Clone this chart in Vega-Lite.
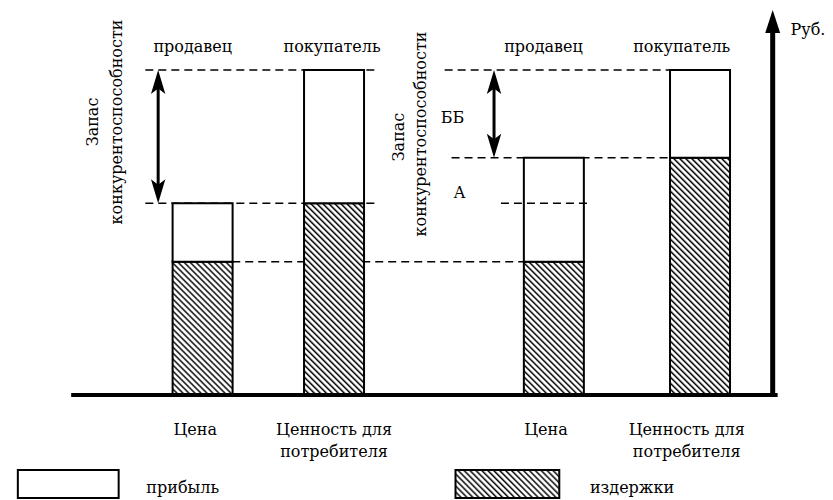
{
"$schema":"https://vega.github.io/schema/vega-lite/v6.json",
"width":833,"height":500,
"autosize":{"type":"fit","contains":"padding"},
"padding":0,
"background":"white",
"config":{"view":{"stroke":null},"axis":{"disable":true}},
"datasets":{
"bars":[
{"col":"A1","part":"издержки","x":24.01,"y":0,"y2":41},
{"col":"A1","part":"прибыль","x":24.01,"y":41,"y2":59},
{"col":"A2","part":"издержки","x":39.98,"y":0,"y2":59},
{"col":"A2","part":"прибыль","x":39.98,"y":59,"y2":100},
{"col":"B1","part":"издержки","x":66.69,"y":0,"y2":41},
{"col":"B1","part":"прибыль","x":66.69,"y":41,"y2":73},
{"col":"B2","part":"издержки","x":84.45,"y":0,"y2":73},
{"col":"B2","part":"прибыль","x":84.45,"y":73,"y2":100}],
"legend":[
{"part":"прибыль","x":1.56,"x2":13.81,"y":-23.08,"y2":-31.69},
{"part":"издержки","x":54.74,"x2":67.35,"y":-23.08,"y2":-31.69}],
"guides":[
{"x":17.05,"x2":45.26,"y":100},
{"x":17.05,"x2":45.26,"y":59},
{"x":27.61,"x2":63.15,"y":41},
{"x":53.42,"x2":80.91,"y":100},
{"x":54.26,"x2":80.91,"y":73}],
"guideA":[{"x":60.26,"x2":70.83,"y":59}],
"arrows":[{"x":18.61,"y":100,"y2":59},{"x":59.42,"y":100,"y2":73}],
"base":[{"x":8.04,"x2":93.88,"y":0}],
"vaxis":[{"x":93.28,"y":-0.6,"y2":118.46}],
"textC":[
{"t":"продавец","x":22.81,"y":105.54},
{"t":"покупатель","x":39.74,"y":105.54},
{"t":"продавец","x":65.43,"y":105.54},
{"t":"покупатель","x":82.23,"y":105.54},
{"t":"ББ","x":54.38,"y":83.69},
{"t":"А","x":55.22,"y":60.62},
{"t":"Цена","x":23.11,"y":-12.31},
{"t":"Ценность для","x":39.98,"y":-12.31},
{"t":"потребителя","x":39.98,"y":-19.08},
{"t":"Цена","x":65.73,"y":-12.31},
{"t":"Ценность для","x":82.83,"y":-12.31},
{"t":"потребителя","x":82.83,"y":-19.08}],
"textL":[
{"t":"Руб.","x":95.44,"y":110.77},
{"t":"прибыль","x":17.17,"y":-30.15},
{"t":"издержки","x":71.07,"y":-30.15}],
"textR":[
{"t":"Запас","x":11.3,"y":84.0},
{"t":"конкурентоспособности","x":14.25,"y":84.0},
{"t":"Запас","x":48.5,"y":79.38},
{"t":"конкурентоспособности","x":51.14,"y":80.31}]
},
"encoding":{
"x":{"field":"x","type":"quantitative","scale":{"domain":[0,100],"nice":false,"zero":false},"axis":null},
"y":{"field":"y","type":"quantitative","scale":{"domain":[-32.31,121.54],"nice":false,"zero":false},"axis":null}
},
"layer":[
{"data":{"name":"guides"},"mark":{"type":"rule","color":"#000","strokeWidth":1.5,"strokeDash":[8,5]},"encoding":{"x2":{"field":"x2"}}},
{"data":{"name":"bars"},"mark":{"type":"bar","orient":"vertical","width":60,"stroke":"#000","strokeWidth":2},
"encoding":{"y2":{"field":"y2"},
"fill":{"condition":[
{"test":"datum.part==='прибыль'","value":"#fff"},
{"test":"datum.col==='A2'","value":{"gradient":"linear","x1":0,"y1":1,"x2":0.4459,"y2":-0.425,"stops":[
{"offset":0,"color":"#000"},{"offset":0.008,"color":"#fff"},{"offset":0.014,"color":"#fff"},
{"offset":0.02,"color":"#000"},{"offset":0.028,"color":"#fff"},{"offset":0.034,"color":"#fff"},
{"offset":0.04,"color":"#000"},{"offset":0.048,"color":"#fff"},{"offset":0.054,"color":"#fff"},
{"offset":0.06,"color":"#000"},{"offset":0.068,"color":"#fff"},{"offset":0.074,"color":"#fff"},
{"offset":0.08,"color":"#000"},{"offset":0.088,"color":"#fff"},{"offset":0.094,"color":"#fff"},
{"offset":0.1,"color":"#000"},{"offset":0.108,"color":"#fff"},{"offset":0.114,"color":"#fff"},
{"offset":0.12,"color":"#000"},{"offset":0.128,"color":"#fff"},{"offset":0.134,"color":"#fff"},
{"offset":0.14,"color":"#000"},{"offset":0.148,"color":"#fff"},{"offset":0.154,"color":"#fff"},
{"offset":0.16,"color":"#000"},{"offset":0.168,"color":"#fff"},{"offset":0.174,"color":"#fff"},
{"offset":0.18,"color":"#000"},{"offset":0.188,"color":"#fff"},{"offset":0.194,"color":"#fff"},
{"offset":0.2,"color":"#000"},{"offset":0.208,"color":"#fff"},{"offset":0.214,"color":"#fff"},
{"offset":0.22,"color":"#000"},{"offset":0.228,"color":"#fff"},{"offset":0.234,"color":"#fff"},
{"offset":0.24,"color":"#000"},{"offset":0.248,"color":"#fff"},{"offset":0.254,"color":"#fff"},
{"offset":0.26,"color":"#000"},{"offset":0.268,"color":"#fff"},{"offset":0.274,"color":"#fff"},
{"offset":0.28,"color":"#000"},{"offset":0.288,"color":"#fff"},{"offset":0.294,"color":"#fff"},
{"offset":0.3,"color":"#000"},{"offset":0.308,"color":"#fff"},{"offset":0.314,"color":"#fff"},
{"offset":0.32,"color":"#000"},{"offset":0.328,"color":"#fff"},{"offset":0.334,"color":"#fff"},
{"offset":0.34,"color":"#000"},{"offset":0.348,"color":"#fff"},{"offset":0.354,"color":"#fff"},
{"offset":0.36,"color":"#000"},{"offset":0.368,"color":"#fff"},{"offset":0.374,"color":"#fff"},
{"offset":0.38,"color":"#000"},{"offset":0.388,"color":"#fff"},{"offset":0.394,"color":"#fff"},
{"offset":0.4,"color":"#000"},{"offset":0.408,"color":"#fff"},{"offset":0.414,"color":"#fff"},
{"offset":0.42,"color":"#000"},{"offset":0.428,"color":"#fff"},{"offset":0.434,"color":"#fff"},
{"offset":0.44,"color":"#000"},{"offset":0.448,"color":"#fff"},{"offset":0.454,"color":"#fff"},
{"offset":0.46,"color":"#000"},{"offset":0.468,"color":"#fff"},{"offset":0.474,"color":"#fff"},
{"offset":0.48,"color":"#000"},{"offset":0.488,"color":"#fff"},{"offset":0.494,"color":"#fff"},
{"offset":0.5,"color":"#000"},{"offset":0.508,"color":"#fff"},{"offset":0.514,"color":"#fff"},
{"offset":0.52,"color":"#000"},{"offset":0.528,"color":"#fff"},{"offset":0.534,"color":"#fff"},
{"offset":0.54,"color":"#000"},{"offset":0.548,"color":"#fff"},{"offset":0.554,"color":"#fff"},
{"offset":0.56,"color":"#000"},{"offset":0.568,"color":"#fff"},{"offset":0.574,"color":"#fff"},
{"offset":0.58,"color":"#000"},{"offset":0.588,"color":"#fff"},{"offset":0.594,"color":"#fff"},
{"offset":0.6,"color":"#000"},{"offset":0.608,"color":"#fff"},{"offset":0.614,"color":"#fff"},
{"offset":0.62,"color":"#000"},{"offset":0.628,"color":"#fff"},{"offset":0.634,"color":"#fff"},
{"offset":0.64,"color":"#000"},{"offset":0.648,"color":"#fff"},{"offset":0.654,"color":"#fff"},
{"offset":0.66,"color":"#000"},{"offset":0.668,"color":"#fff"},{"offset":0.674,"color":"#fff"},
{"offset":0.68,"color":"#000"},{"offset":0.688,"color":"#fff"},{"offset":0.694,"color":"#fff"},
{"offset":0.7,"color":"#000"},{"offset":0.708,"color":"#fff"},{"offset":0.714,"color":"#fff"},
{"offset":0.72,"color":"#000"},{"offset":0.728,"color":"#fff"},{"offset":0.734,"color":"#fff"},
{"offset":0.74,"color":"#000"},{"offset":0.748,"color":"#fff"},{"offset":0.754,"color":"#fff"},
{"offset":0.76,"color":"#000"},{"offset":0.768,"color":"#fff"},{"offset":0.774,"color":"#fff"},
{"offset":0.78,"color":"#000"},{"offset":0.788,"color":"#fff"},{"offset":0.794,"color":"#fff"},
{"offset":0.8,"color":"#000"},{"offset":0.808,"color":"#fff"},{"offset":0.814,"color":"#fff"},
{"offset":0.82,"color":"#000"},{"offset":0.828,"color":"#fff"},{"offset":0.834,"color":"#fff"},
{"offset":0.84,"color":"#000"},{"offset":0.848,"color":"#fff"},{"offset":0.854,"color":"#fff"},
{"offset":0.86,"color":"#000"}]}},
{"test":"datum.col==='B2'","value":{"gradient":"linear","x1":0,"y1":1,"x2":0.3006,"y2":-0.1885,"stops":[
{"offset":0,"color":"#000"},{"offset":0.008,"color":"#fff"},{"offset":0.014,"color":"#fff"},
{"offset":0.02,"color":"#000"},{"offset":0.028,"color":"#fff"},{"offset":0.034,"color":"#fff"},
{"offset":0.04,"color":"#000"},{"offset":0.048,"color":"#fff"},{"offset":0.054,"color":"#fff"},
{"offset":0.06,"color":"#000"},{"offset":0.068,"color":"#fff"},{"offset":0.074,"color":"#fff"},
{"offset":0.08,"color":"#000"},{"offset":0.088,"color":"#fff"},{"offset":0.094,"color":"#fff"},
{"offset":0.1,"color":"#000"},{"offset":0.108,"color":"#fff"},{"offset":0.114,"color":"#fff"},
{"offset":0.12,"color":"#000"},{"offset":0.128,"color":"#fff"},{"offset":0.134,"color":"#fff"},
{"offset":0.14,"color":"#000"},{"offset":0.148,"color":"#fff"},{"offset":0.154,"color":"#fff"},
{"offset":0.16,"color":"#000"},{"offset":0.168,"color":"#fff"},{"offset":0.174,"color":"#fff"},
{"offset":0.18,"color":"#000"},{"offset":0.188,"color":"#fff"},{"offset":0.194,"color":"#fff"},
{"offset":0.2,"color":"#000"},{"offset":0.208,"color":"#fff"},{"offset":0.214,"color":"#fff"},
{"offset":0.22,"color":"#000"},{"offset":0.228,"color":"#fff"},{"offset":0.234,"color":"#fff"},
{"offset":0.24,"color":"#000"},{"offset":0.248,"color":"#fff"},{"offset":0.254,"color":"#fff"},
{"offset":0.26,"color":"#000"},{"offset":0.268,"color":"#fff"},{"offset":0.274,"color":"#fff"},
{"offset":0.28,"color":"#000"},{"offset":0.288,"color":"#fff"},{"offset":0.294,"color":"#fff"},
{"offset":0.3,"color":"#000"},{"offset":0.308,"color":"#fff"},{"offset":0.314,"color":"#fff"},
{"offset":0.32,"color":"#000"},{"offset":0.328,"color":"#fff"},{"offset":0.334,"color":"#fff"},
{"offset":0.34,"color":"#000"},{"offset":0.348,"color":"#fff"},{"offset":0.354,"color":"#fff"},
{"offset":0.36,"color":"#000"},{"offset":0.368,"color":"#fff"},{"offset":0.374,"color":"#fff"},
{"offset":0.38,"color":"#000"},{"offset":0.388,"color":"#fff"},{"offset":0.394,"color":"#fff"},
{"offset":0.4,"color":"#000"},{"offset":0.408,"color":"#fff"},{"offset":0.414,"color":"#fff"},
{"offset":0.42,"color":"#000"},{"offset":0.428,"color":"#fff"},{"offset":0.434,"color":"#fff"},
{"offset":0.44,"color":"#000"},{"offset":0.448,"color":"#fff"},{"offset":0.454,"color":"#fff"},
{"offset":0.46,"color":"#000"},{"offset":0.468,"color":"#fff"},{"offset":0.474,"color":"#fff"},
{"offset":0.48,"color":"#000"},{"offset":0.488,"color":"#fff"},{"offset":0.494,"color":"#fff"},
{"offset":0.5,"color":"#000"},{"offset":0.508,"color":"#fff"},{"offset":0.514,"color":"#fff"},
{"offset":0.52,"color":"#000"},{"offset":0.528,"color":"#fff"},{"offset":0.534,"color":"#fff"},
{"offset":0.54,"color":"#000"},{"offset":0.548,"color":"#fff"},{"offset":0.554,"color":"#fff"},
{"offset":0.56,"color":"#000"},{"offset":0.568,"color":"#fff"},{"offset":0.574,"color":"#fff"},
{"offset":0.58,"color":"#000"},{"offset":0.588,"color":"#fff"},{"offset":0.594,"color":"#fff"},
{"offset":0.6,"color":"#000"},{"offset":0.608,"color":"#fff"},{"offset":0.614,"color":"#fff"},
{"offset":0.62,"color":"#000"},{"offset":0.628,"color":"#fff"},{"offset":0.634,"color":"#fff"},
{"offset":0.64,"color":"#000"},{"offset":0.648,"color":"#fff"},{"offset":0.654,"color":"#fff"},
{"offset":0.66,"color":"#000"},{"offset":0.668,"color":"#fff"},{"offset":0.674,"color":"#fff"},
{"offset":0.68,"color":"#000"},{"offset":0.688,"color":"#fff"},{"offset":0.694,"color":"#fff"},
{"offset":0.7,"color":"#000"},{"offset":0.708,"color":"#fff"},{"offset":0.714,"color":"#fff"},
{"offset":0.72,"color":"#000"},{"offset":0.728,"color":"#fff"},{"offset":0.734,"color":"#fff"},
{"offset":0.74,"color":"#000"},{"offset":0.748,"color":"#fff"},{"offset":0.754,"color":"#fff"},
{"offset":0.76,"color":"#000"},{"offset":0.768,"color":"#fff"},{"offset":0.774,"color":"#fff"},
{"offset":0.78,"color":"#000"},{"offset":0.788,"color":"#fff"},{"offset":0.794,"color":"#fff"},
{"offset":0.8,"color":"#000"},{"offset":0.808,"color":"#fff"},{"offset":0.814,"color":"#fff"},
{"offset":0.82,"color":"#000"},{"offset":0.828,"color":"#fff"},{"offset":0.834,"color":"#fff"},
{"offset":0.84,"color":"#000"},{"offset":0.848,"color":"#fff"},{"offset":0.854,"color":"#fff"},
{"offset":0.86,"color":"#000"},{"offset":0.868,"color":"#fff"},{"offset":0.874,"color":"#fff"},
{"offset":0.88,"color":"#000"},{"offset":0.888,"color":"#fff"},{"offset":0.894,"color":"#fff"},
{"offset":0.9,"color":"#000"},{"offset":0.908,"color":"#fff"},{"offset":0.914,"color":"#fff"},
{"offset":0.92,"color":"#000"},{"offset":0.928,"color":"#fff"},{"offset":0.934,"color":"#fff"},
{"offset":0.94,"color":"#000"},{"offset":0.948,"color":"#fff"},{"offset":0.954,"color":"#fff"},
{"offset":0.96,"color":"#000"},{"offset":0.968,"color":"#fff"},{"offset":0.974,"color":"#fff"},
{"offset":0.98,"color":"#000"},{"offset":0.988,"color":"#fff"},{"offset":0.994,"color":"#fff"},
{"offset":1,"color":"#000"}]}}],
"value":{"gradient":"linear","x1":0,"y1":1,"x2":0.8429,"y2":-0.8719,"stops":[
{"offset":0,"color":"#000"},{"offset":0.008,"color":"#fff"},{"offset":0.014,"color":"#fff"},
{"offset":0.02,"color":"#000"},{"offset":0.028,"color":"#fff"},{"offset":0.034,"color":"#fff"},
{"offset":0.04,"color":"#000"},{"offset":0.048,"color":"#fff"},{"offset":0.054,"color":"#fff"},
{"offset":0.06,"color":"#000"},{"offset":0.068,"color":"#fff"},{"offset":0.074,"color":"#fff"},
{"offset":0.08,"color":"#000"},{"offset":0.088,"color":"#fff"},{"offset":0.094,"color":"#fff"},
{"offset":0.1,"color":"#000"},{"offset":0.108,"color":"#fff"},{"offset":0.114,"color":"#fff"},
{"offset":0.12,"color":"#000"},{"offset":0.128,"color":"#fff"},{"offset":0.134,"color":"#fff"},
{"offset":0.14,"color":"#000"},{"offset":0.148,"color":"#fff"},{"offset":0.154,"color":"#fff"},
{"offset":0.16,"color":"#000"},{"offset":0.168,"color":"#fff"},{"offset":0.174,"color":"#fff"},
{"offset":0.18,"color":"#000"},{"offset":0.188,"color":"#fff"},{"offset":0.194,"color":"#fff"},
{"offset":0.2,"color":"#000"},{"offset":0.208,"color":"#fff"},{"offset":0.214,"color":"#fff"},
{"offset":0.22,"color":"#000"},{"offset":0.228,"color":"#fff"},{"offset":0.234,"color":"#fff"},
{"offset":0.24,"color":"#000"},{"offset":0.248,"color":"#fff"},{"offset":0.254,"color":"#fff"},
{"offset":0.26,"color":"#000"},{"offset":0.268,"color":"#fff"},{"offset":0.274,"color":"#fff"},
{"offset":0.28,"color":"#000"},{"offset":0.288,"color":"#fff"},{"offset":0.294,"color":"#fff"},
{"offset":0.3,"color":"#000"},{"offset":0.308,"color":"#fff"},{"offset":0.314,"color":"#fff"},
{"offset":0.32,"color":"#000"},{"offset":0.328,"color":"#fff"},{"offset":0.334,"color":"#fff"},
{"offset":0.34,"color":"#000"},{"offset":0.348,"color":"#fff"},{"offset":0.354,"color":"#fff"},
{"offset":0.36,"color":"#000"},{"offset":0.368,"color":"#fff"},{"offset":0.374,"color":"#fff"},
{"offset":0.38,"color":"#000"},{"offset":0.388,"color":"#fff"},{"offset":0.394,"color":"#fff"},
{"offset":0.4,"color":"#000"},{"offset":0.408,"color":"#fff"},{"offset":0.414,"color":"#fff"},
{"offset":0.42,"color":"#000"},{"offset":0.428,"color":"#fff"},{"offset":0.434,"color":"#fff"},
{"offset":0.44,"color":"#000"},{"offset":0.448,"color":"#fff"},{"offset":0.454,"color":"#fff"},
{"offset":0.46,"color":"#000"},{"offset":0.468,"color":"#fff"},{"offset":0.474,"color":"#fff"},
{"offset":0.48,"color":"#000"},{"offset":0.488,"color":"#fff"},{"offset":0.494,"color":"#fff"},
{"offset":0.5,"color":"#000"},{"offset":0.508,"color":"#fff"},{"offset":0.514,"color":"#fff"},
{"offset":0.52,"color":"#000"},{"offset":0.528,"color":"#fff"},{"offset":0.534,"color":"#fff"},
{"offset":0.54,"color":"#000"},{"offset":0.548,"color":"#fff"},{"offset":0.554,"color":"#fff"},
{"offset":0.56,"color":"#000"},{"offset":0.568,"color":"#fff"},{"offset":0.574,"color":"#fff"},
{"offset":0.58,"color":"#000"},{"offset":0.588,"color":"#fff"},{"offset":0.594,"color":"#fff"},
{"offset":0.6,"color":"#000"},{"offset":0.608,"color":"#fff"},{"offset":0.614,"color":"#fff"},
{"offset":0.62,"color":"#000"},{"offset":0.628,"color":"#fff"},{"offset":0.634,"color":"#fff"},
{"offset":0.64,"color":"#000"},{"offset":0.648,"color":"#fff"},{"offset":0.654,"color":"#fff"},
{"offset":0.66,"color":"#000"}]}}}},
{"data":{"name":"legend"},"mark":{"type":"bar","stroke":"#000","strokeWidth":2},
"encoding":{"x2":{"field":"x2"},"y2":{"field":"y2"},
"fill":{"condition":{"test":"datum.part==='прибыль'","value":"#fff"},
"value":{"gradient":"linear","x1":0,"y1":1,"x2":2.6674,"y2":0.2887,"stops":[
{"offset":0,"color":"#000"},{"offset":0.008,"color":"#fff"},{"offset":0.014,"color":"#fff"},
{"offset":0.02,"color":"#000"},{"offset":0.028,"color":"#fff"},{"offset":0.034,"color":"#fff"},
{"offset":0.04,"color":"#000"},{"offset":0.048,"color":"#fff"},{"offset":0.054,"color":"#fff"},
{"offset":0.06,"color":"#000"},{"offset":0.068,"color":"#fff"},{"offset":0.074,"color":"#fff"},
{"offset":0.08,"color":"#000"},{"offset":0.088,"color":"#fff"},{"offset":0.094,"color":"#fff"},
{"offset":0.1,"color":"#000"},{"offset":0.108,"color":"#fff"},{"offset":0.114,"color":"#fff"},
{"offset":0.12,"color":"#000"},{"offset":0.128,"color":"#fff"},{"offset":0.134,"color":"#fff"},
{"offset":0.14,"color":"#000"},{"offset":0.148,"color":"#fff"},{"offset":0.154,"color":"#fff"},
{"offset":0.16,"color":"#000"},{"offset":0.168,"color":"#fff"},{"offset":0.174,"color":"#fff"},
{"offset":0.18,"color":"#000"},{"offset":0.188,"color":"#fff"},{"offset":0.194,"color":"#fff"},
{"offset":0.2,"color":"#000"},{"offset":0.208,"color":"#fff"},{"offset":0.214,"color":"#fff"},
{"offset":0.22,"color":"#000"},{"offset":0.228,"color":"#fff"},{"offset":0.234,"color":"#fff"},
{"offset":0.24,"color":"#000"},{"offset":0.248,"color":"#fff"},{"offset":0.254,"color":"#fff"},
{"offset":0.26,"color":"#000"},{"offset":0.268,"color":"#fff"},{"offset":0.274,"color":"#fff"},
{"offset":0.28,"color":"#000"},{"offset":0.288,"color":"#fff"},{"offset":0.294,"color":"#fff"},
{"offset":0.3,"color":"#000"},{"offset":0.308,"color":"#fff"},{"offset":0.314,"color":"#fff"},
{"offset":0.32,"color":"#000"},{"offset":0.328,"color":"#fff"},{"offset":0.334,"color":"#fff"},
{"offset":0.34,"color":"#000"},{"offset":0.348,"color":"#fff"},{"offset":0.354,"color":"#fff"},
{"offset":0.36,"color":"#000"},{"offset":0.368,"color":"#fff"},{"offset":0.374,"color":"#fff"},
{"offset":0.38,"color":"#000"},{"offset":0.388,"color":"#fff"},{"offset":0.394,"color":"#fff"},
{"offset":0.4,"color":"#000"},{"offset":0.408,"color":"#fff"},{"offset":0.414,"color":"#fff"},
{"offset":0.42,"color":"#000"},{"offset":0.428,"color":"#fff"},{"offset":0.434,"color":"#fff"},
{"offset":0.44,"color":"#000"},{"offset":0.448,"color":"#fff"},{"offset":0.454,"color":"#fff"},
{"offset":0.46,"color":"#000"}]}}}},
{"data":{"name":"guideA"},"mark":{"type":"rule","color":"#000","strokeWidth":1.5,"strokeDash":[8,5]},"encoding":{"x2":{"field":"x2"}}},
{"data":{"name":"base"},"mark":{"type":"rule","color":"#000","strokeWidth":4},"encoding":{"x2":{"field":"x2"}}},
{"data":{"name":"vaxis"},"mark":{"type":"rule","color":"#000","strokeWidth":5,"y2Offset":14},"encoding":{"y2":{"field":"y2"}}},
{"data":{"name":"vaxis"},"mark":{"type":"point","shape":"M0,-1L0.65,1L-0.65,1Z","size":529,"filled":true,"color":"#000","opacity":1,"strokeWidth":0,"yOffset":11.5},
"encoding":{"y":{"field":"y2","type":"quantitative","scale":{"domain":[-32.31,121.54],"nice":false,"zero":false},"axis":null}}},
{"data":{"name":"arrows"},"mark":{"type":"rule","color":"#000","strokeWidth":3,"yOffset":12,"y2Offset":-12},"encoding":{"y2":{"field":"y2"}}},
{"data":{"name":"arrows"},"mark":{"type":"point","shape":"M0,-1L0.6,1L0,0.55L-0.6,1Z","size":576,"filled":true,"color":"#000","opacity":1,"strokeWidth":0,"yOffset":12}},
{"data":{"name":"arrows"},"mark":{"type":"point","shape":"M0,1L0.6,-1L0,-0.55L-0.6,-1Z","size":576,"filled":true,"color":"#000","opacity":1,"strokeWidth":0,"yOffset":-12},
"encoding":{"y":{"field":"y2","type":"quantitative","scale":{"domain":[-32.31,121.54],"nice":false,"zero":false},"axis":null}}},
{"data":{"name":"textC"},"mark":{"type":"text","align":"center","baseline":"alphabetic","font":"DejaVu Serif","fontSize":16,"color":"#000"},"encoding":{"text":{"field":"t"}}},
{"data":{"name":"textL"},"mark":{"type":"text","align":"left","baseline":"alphabetic","font":"DejaVu Serif","fontSize":16,"color":"#000"},"encoding":{"text":{"field":"t"}}},
{"data":{"name":"textR"},"mark":{"type":"text","align":"center","baseline":"alphabetic","angle":270,"font":"DejaVu Serif","fontSize":16,"color":"#000"},"encoding":{"text":{"field":"t"}}}
]
}
